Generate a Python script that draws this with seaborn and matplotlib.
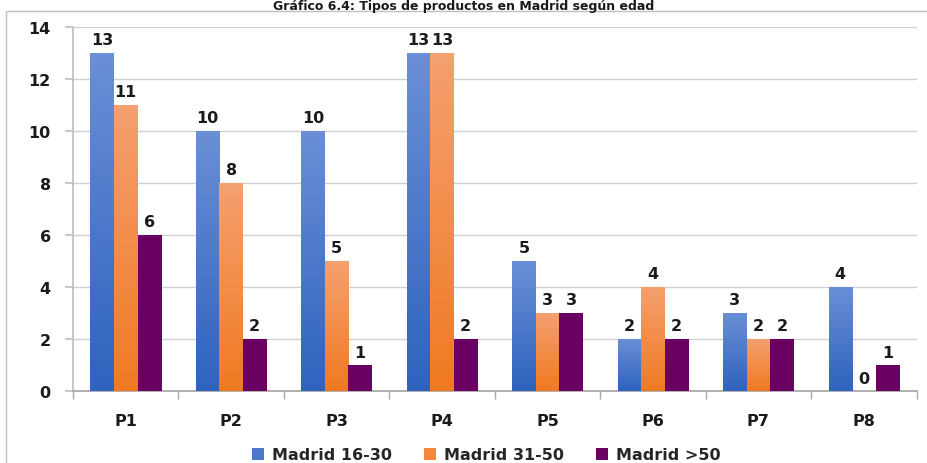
import matplotlib
matplotlib.use("Agg")
import matplotlib.pyplot as plt
import seaborn as sns
import pandas as pd
import numpy as np
from matplotlib.patches import Rectangle
from matplotlib.colors import LinearSegmentedColormap

categories = ["P1", "P2", "P3", "P4", "P5", "P6", "P7", "P8"]
series_names = ["Madrid 16-30", "Madrid 31-50", "Madrid >50"]
madrid_16_30 = [13, 10, 10, 13, 5, 2, 3, 4]
madrid_31_50 = [11, 8, 5, 13, 3, 4, 2, 0]
madrid_50 = [6, 2, 1, 2, 3, 2, 2, 1]
title = "Gráfico 6.4: Tipos de productos en Madrid según edad"
colors = ["#4A79CC", "#F5873D", "#6A0062"]
grad_top = ["#6A8FD6", "#F5A070", "#6A0062"]
grad_bot = ["#2F63BE", "#F07A22", "#6A0062"]

rows = []
for name, vals in zip(series_names, [madrid_16_30, madrid_31_50, madrid_50]):
    for c, v in zip(categories, vals):
        rows.append({"cat": c, "serie": name, "valor": v})
df = pd.DataFrame(rows)

sns.set_theme(style="white")
plt.rcParams["font.family"] = ["DejaVu Sans"]

fig = plt.figure(figsize=(9.28, 4.64), dpi=100)
ax = fig.add_axes([0.0787, 0.155, 0.909, 0.785])

fig.patches.append(Rectangle((6 / 928, -0.01), 1.0, 1 - 12 / 464 + 0.01, transform=fig.transFigure,
                             fill=False, edgecolor="#BFBFBF", linewidth=1.0, zorder=0))

sns.barplot(data=df, x="cat", y="valor", hue="serie", palette=colors, width=0.67,
            saturation=1, ax=ax, legend=True, zorder=3, linewidth=0)

ax.set_ylim(0, 14)
ax.set_xlim(-0.5, 7.5)

# vertical gradient fill inside each bar
for i, cont in enumerate(ax.containers):
    cmap = LinearSegmentedColormap.from_list("g%d" % i, [grad_bot[i], grad_top[i]])
    for p in cont.patches:
        h = p.get_height()
        if h <= 0:
            continue
        x0 = p.get_x()
        w = p.get_width()
        grad = np.linspace(0, 1, 64).reshape(-1, 1)
        im = ax.imshow(grad, cmap=cmap, aspect="auto", origin="lower",
                       extent=[x0, x0 + w, 0, h], zorder=3.5)
        im.set_clip_path(p)

for cont in ax.containers:
    ax.bar_label(cont, fmt="%d", padding=4, fontsize=11.5, fontweight="bold", color="#1a1a1a")

ax.set_ylim(0, 14)
ax.set_xlim(-0.5, 7.5)
ax.set_yticks(range(0, 15, 2))
ax.yaxis.grid(True, color="#D0D0D0", linewidth=1.0, zorder=0)
ax.set_axisbelow(True)
ax.set_xlabel("")
ax.set_ylabel("")
for s in ["top", "right"]:
    ax.spines[s].set_visible(False)
ax.spines["left"].set_color("#BFBFBF")
ax.spines["bottom"].set_color("#A6A6A6")
ax.tick_params(axis="y", left=True, length=6, color="#BFBFBF", labelsize=11.5, pad=10)
ax.tick_params(axis="x", bottom=False, labelsize=11.5, pad=10)
for lab in ax.get_yticklabels() + ax.get_xticklabels():
    lab.set_fontweight("bold")
    lab.set_color("#1a1a1a")
ax.set_xticks([i + 0.5 for i in range(-1, 8)], minor=True)
ax.tick_params(axis="x", which="minor", bottom=True, length=6, color="#A6A6A6")

leg = ax.legend(loc="upper center", bbox_to_anchor=(0.49, -0.115), ncol=3, frameon=False,
                handlelength=0.75, handleheight=0.75, columnspacing=2.0, handletextpad=0.5,
                prop={"weight": "bold", "size": 11.5})

fig.text(0.5, 1.0, title, ha="center", va="top", fontsize=9, fontweight="bold", color="#1a1a1a")

fig.savefig("out.png", dpi=100)
